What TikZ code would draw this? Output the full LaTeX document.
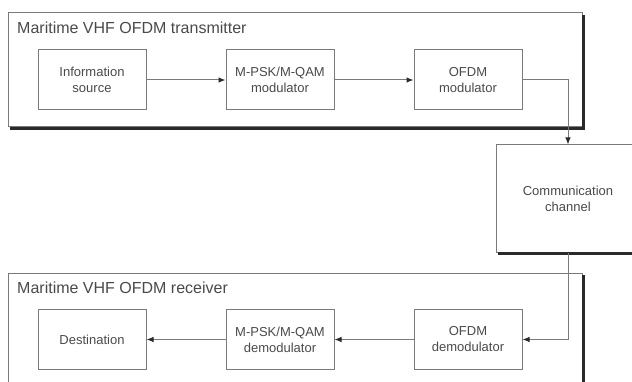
\documentclass[tikz,border=0pt]{standalone}
\usepackage{fontspec}
\setmainfont{Liberation Sans}
\usetikzlibrary{arrows.meta}
\definecolor{thin}{HTML}{7A7A7A}
\definecolor{thick}{HTML}{2A2A2A}
\definecolor{txt}{HTML}{4A4A4A}
\begin{document}
\begin{tikzpicture}[x=1pt,y=-1pt,
  blk/.style={draw=thin,line width=1pt,minimum width=108pt,minimum height=60pt,
    align=center,text=txt,font=\fontsize{13}{16}\selectfont,inner sep=0pt},
  title/.style={anchor=west,text=txt,font=\fontsize{16}{19}\selectfont,inner sep=0pt},
  frame/.style={draw=thin,line width=1pt},
  shadow/.style={draw=thick,line width=2.5pt},
  conn/.style={draw=thin,line width=1pt,-{Latex[length=7pt,width=5.5pt,color=thick]}}]
\useasboundingbox (0,0) rectangle (632,382);
\fill[white] (0,0) rectangle (632,382);
\clip (0,0) rectangle (632,382);
% transmitter frame
\draw[frame] (8,13) rectangle (582,127);
\draw[shadow] (583.5,15) -- (583.5,128.5) -- (10,128.5);
\node[title] (ttx) at (17,28) {Maritime VHF OFDM transmitter};
% receiver frame
\draw[frame] (582,400) -- (582,273) -- (8,273) -- (8,400);
\draw[shadow] (583.5,275) -- (583.5,400);
\node[title] (trx) at (17,288) {Maritime VHF OFDM receiver};
% channel
\node[draw=thin,line width=1pt,minimum width=144pt,minimum height=108pt,
  align=center,text=txt,font=\fontsize{13}{16}\selectfont,inner sep=0pt]
  (chan) at (568,199) {Communication\\channel};
\draw[shadow] (498,253.5) -- (645,253.5);
% blocks
\node[blk] (src) at (92,80) {Information\\source};
\node[blk] (mod) at (280,80) {M-PSK/M-QAM\\modulator};
\node[blk] (ofdm) at (468,80) {OFDM\\modulator};
\node[blk] (dst) at (92,339.5) {Destination};
\node[blk] (demod) at (280,339.5) {M-PSK/M-QAM\\demodulator};
\node[blk] (ofdmd) at (468,339.5) {OFDM\\demodulator};
% connectors
\draw[conn] (src) -- (mod);
\draw[conn] (mod) -- (ofdm);
\draw[conn] (ofdm.east) -| (chan.north);
\draw[conn] (chan.south) |- (ofdmd.east);
\draw[conn] (ofdmd) -- (demod);
\draw[conn] (demod) -- (dst);
\end{tikzpicture}
\end{document}
